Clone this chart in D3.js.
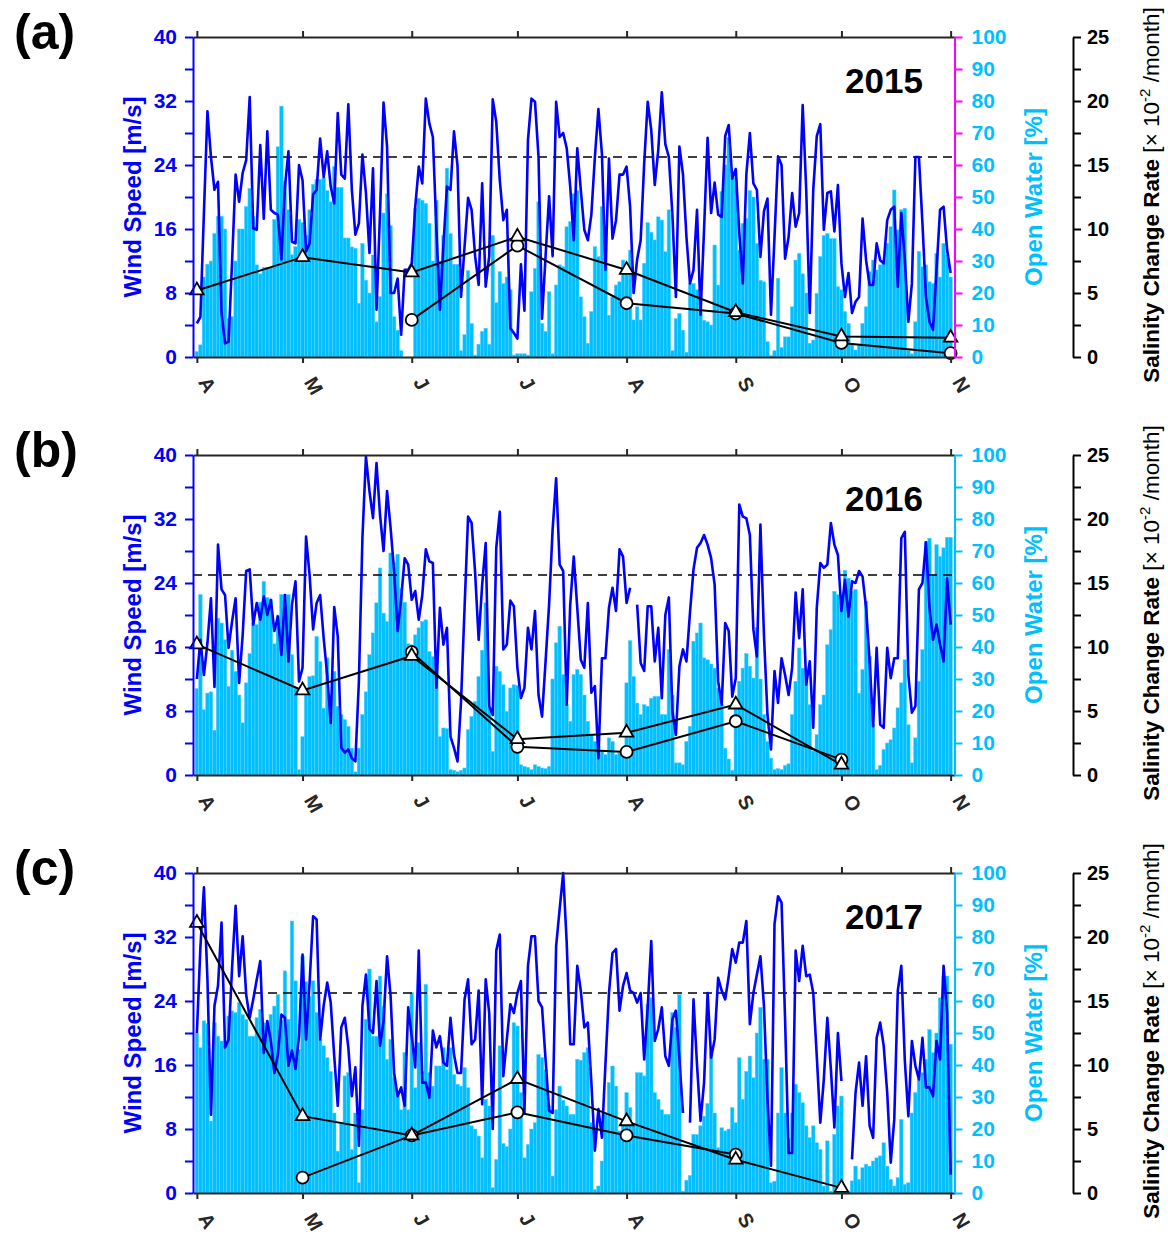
<!DOCTYPE html>
<html><head><meta charset="utf-8">
<script src="https://cdn.jsdelivr.net/npm/d3@7"></script>
<style>
body{margin:0;background:#fff;}
svg{display:block;font-family:"Liberation Sans",Arial,Helvetica,sans-serif;}
</style>
</head><body>
<svg id="chart" width="1168" height="1239"></svg>
<script>
// ---------- data ----------
const months = ["A","M","J","J","A","S","O","N"];
const monthDays = [0,30,61,91,122,153,183,214];   // day index from Apr 1
const years = ["2015","2016","2017"];
const panelLabels = ["(a)","(b)","(c)"];

const wind2015 = [
4.2,5,18,30.7,25,20.9,21.9,5.5,1.7,1.9,
12,22.8,19.4,23,24.6,32.5,16.1,15.9,26.5,17.3,
28.2,18.4,18,17.8,12.2,21.3,25.7,14.4,14.2,24,
22.1,13.2,14.2,20.3,20.9,27.3,22.5,25.7,21.3,19.2,
30.5,22.8,22.3,31.6,20.9,15.3,16.7,25.3,20.5,13,
23.6,5.9,18,31.8,26.3,8,8,9.8,2.8,10.9,
10.9,11.7,18.8,23.8,21.7,32.3,29.2,27.5,16,5.9,
14,21.3,20.9,28.2,23.9,7.5,13.8,19.9,18.4,12.6,
9,21.7,8.8,12.6,32.2,29.4,22.1,17.1,18.4,3.6,
3,2.3,11.6,5.8,27.1,32.3,31.9,25,4.8,12.6,
20.1,12.6,31.9,27.5,28,26.1,21.3,14.6,26.1,20.9,
15.9,14.6,17.8,25,31,25.4,10.9,24.8,14.8,17.1,
22.8,22.8,23.8,18.8,8,12.2,14.6,24.2,31.9,28.4,
21.5,25.9,33.1,26.6,25,17.9,7.5,26.3,22.9,15,
9.2,10.9,18.4,5.3,16,27.4,18,21.8,17.8,17.5,
27.6,29,22.3,23.5,15.5,9.2,22.8,28,21.7,20.9,
12.5,18.2,19.8,5.3,15,25.1,24,12.3,15,20.5,
16.3,18,31.5,20.9,5.5,20.9,27.6,29.1,15.9,20.5,
20.7,15.7,21.5,11.7,7.5,10.5,5.5,6.9,7.5,17.3,
12.1,9,9,14.2,12.1,11.7,17.1,18.4,18.8,8.8,
18,12.1,4.4,9.2,25,25,16.7,7.5,4.4,3.4,
10.9,18.4,18.8,13.4,10.5];
const water2015 = [
1.7,3.8,25,29,30,38.6,44,44,40,12,
12.6,30,40,40,47,52.7,44,28.8,26,28,
28,28,43,65.7,78.4,54.8,46,32,34.5,43,
42,38,46,54,55.5,55.5,56,52,48.5,59.5,
53,53,37.2,37.2,34.4,34,16.8,35.5,24,20,
31.9,11,18.9,45,51,41,12.6,8.4,2,0,
0,0,46.5,49.6,49,48,41.8,30,49,30,
38,59,38.6,29,29,2,7,27,10.5,0.6,
4,8,9,4,38,17,26.7,23,25,21,
0.6,1,1,1,0.6,20.4,27.7,48.5,10.5,8,
20.4,1,22.5,28.8,28.3,40.7,42.3,51,52,18.8,
12.6,4.3,14.2,34.5,31.4,47,38.6,13,18.8,22.5,
23.5,30.3,29.3,33.4,11.6,15.7,11.6,29.3,42,39,
36.6,43.8,42.8,32.9,46,2,12,13.6,8.4,1.5,
23,23,21,14,11.5,11,10,35,22.5,51.7,
60,68.6,56,56,33.4,41.8,43.3,52,50,35.5,
24,23.5,4.8,0.5,2,24.6,3,6.3,6.3,15.7,
30.3,32.4,26,20,4.3,5.3,19.9,31.4,38,38.6,
37,37,22,21,14.2,10.5,4.3,2.2,4,10.5,
15.7,26.7,30.3,27.2,28.8,29.3,35.5,40.7,52.2,39.7,
46,46.5,2,1,11,33,28.2,28.8,23.5,23,
32.4,25,35.5,31.9,25];

const wind2016 = [
12,16.9,12.5,16.5,22.1,11,28.8,23.2,22.5,15.9,
19.2,22.1,11.5,17.5,25.5,25.7,18.8,21.5,19.4,22.3,
20,21.9,18,19.8,15,22.5,14.2,21.3,24.2,11.7,
13.4,29.8,25,18.2,21.5,22.5,17.1,12.5,6.5,21,
17.3,3.4,2.8,3.2,2.1,1.7,11.7,29.6,39.8,35.5,
32.1,39,32.5,28,35.5,30.9,25.5,18,22.1,27.1,
26.3,21.9,23,19.4,22.5,28.2,26.7,26.5,10.9,20.9,
16.3,18.4,4.8,3.4,1.7,9.2,20.9,32.3,31.5,25.3,
16.9,23.8,29,8.6,7.5,28.4,32.9,15.7,16.3,21.8,
21.1,13.4,9.6,10.9,18.4,15.7,20.5,10,7.3,14.2,
21.3,30.7,37.1,26.3,25.5,8.8,21.3,27.3,20.9,14.4,
13.4,21.5,10.3,11.1,2.1,14.6,14.6,20.9,23.4,20.5,
28.2,27.3,21.5,23.4,null,21.3,14,13,21.1,21.1,
14.2,18.4,9.6,20,22.2,8,5,13.6,15.7,14.2,
20.3,25.7,28.4,29,30,28.8,27.1,23.8,11.7,8.8,
19,18,9.8,12.1,33.8,32.3,32.1,30,18.2,14.8,
31.3,17.5,7.5,3.2,13,9,14.6,12.5,10,13.4,
22.8,17.1,23.2,11.3,14.2,5.9,20.9,26.5,25.9,26.3,
31.5,28.8,27.5,20.5,24.4,19.8,24.2,24,25.5,24.8,
20.9,14.2,6.1,15.9,6.3,5.9,15.9,12.1,14.6,14.6,
29.6,30.4,12.5,7.8,8.6,23.2,24,29.1,20.9,16.9,
18.8,16.3,14.2,24.6,18.8];
const water2016 = [
27,56.4,20.4,25.6,26,14,49,47.5,42.3,27.7,
39,32.4,25,16.3,28.8,38,47.5,47,54,60.5,
55.5,54.8,41,50,56.4,56.5,56.4,37.6,27.2,1.7,
12,25.6,30.8,31,43.3,35.5,20.9,36.6,25,32.4,
21.5,18.9,17.3,15.2,8.4,1,8.4,18.9,26,37.6,
44.4,53.8,64.7,50.6,48,69.4,66.3,69,58.4,54,
41,40.7,43.8,46,48,48.5,38.6,37,35,12,
14.7,14.5,1.7,1.5,1,1.5,2.2,14.2,18.3,23,
30.8,39,53.8,21,7.4,34,32.4,28.2,19.9,27.2,
28.2,28,3.2,2.7,2.4,1.7,3.2,2.7,2.2,2,
2.7,30,41.3,46.5,31.4,22,16.8,31.4,33,31.4,
25,16.8,12.6,10.5,9,7.4,6.4,11.6,10.5,6.4,
6.9,7.4,28.8,42,30.8,22.5,18.9,22,21.5,24,
24.6,24.6,18.9,18.9,39.2,25,3.8,3.8,3.2,10.5,
15.2,41.8,44.4,47.5,36.6,36,34.7,33.4,27.2,22,
8.4,5,1.5,23,29.3,33.4,38,34,30.3,46,
30,18.9,10.5,5.3,1.7,2,1.7,3,3.5,18.9,
29.3,39.7,33.4,29.3,22,7.5,12.6,22,25,40.7,
45.4,57.4,56.4,53.8,64,61.5,57.4,58,25.6,33,
54.3,37,15.7,1.7,3,8,10,11,14.7,21,
28.8,36,15.7,3.8,11.6,29.3,39.2,73,74,62.6,
72,68.3,71,74.3,74.3];

const wind2017 = [
20,30.7,38.2,26.7,9.8,23.4,25.9,33.8,18.2,19.2,
28.2,35.9,27.1,32.1,24.8,21.9,24.2,26.7,29,17.5,
21.5,19,15,17.3,22.3,21.9,15.9,17.8,15.5,19.6,
29.8,19.2,26.3,34.6,34.2,19.2,23.4,26.3,23.8,17.1,
10.9,20.7,21.9,18.2,12.1,15.7,5.9,23.4,27.3,20.5,
20,26.5,18.4,21.5,29.6,24.6,15,12.1,13.2,10.9,
23.2,19.6,15.7,30.3,13.8,13.8,11.9,20.3,18.2,19.6,
16.3,15.9,21.9,17.3,15,15,24.2,26.7,18.6,19.2,
25.3,11.1,26.7,22.5,8,30.3,32.3,14.6,19.2,23.6,
22.5,25,26.5,10,28.4,32.1,32.1,24,23.2,16.7,
10.3,10,30.9,35.5,40,31.3,18.6,18.6,28.4,25.3,
20.7,21.3,13.8,5.3,10.5,6.9,16.1,25,30,30.5,
22.8,25.9,27.5,25.3,25,23.8,25,16.7,23.2,31.5,
19,20.5,23.2,17.1,15.9,21.7,22.8,16.7,10,null,
8.8,24.2,16,9,13.8,25,16.9,19.2,26.9,25.3,
24.2,27.1,30.5,28.8,31.3,31.3,34,21.1,25,27.3,
29.6,23.4,11.7,3.4,33.6,37.1,36.3,21.7,5,5,
30.3,26.5,30.9,27.1,27.3,25,17.1,8.8,14.2,21.9,
15.5,8.2,20,14,null,null,4.2,12.5,16.3,10.9,
17.1,8.4,6.9,19.4,21.3,18.4,12.5,3.8,9.2,25.3,
28.4,16.5,9.6,19,15.9,14.2,19.4,13.2,13.2,12.1,
19,16.7,28.4,22.5,2.3];
const water2017 = [
50,45.4,53.8,53,22.5,53.2,49,47.5,46,55.3,
56.9,56.4,59.5,55.8,54.3,49,49,54.8,57.4,53.2,
52.2,55.8,58.4,62,54,69.4,54.3,85,66.3,44.9,
74,66,61.5,66.3,56.4,48,46,42.3,38,25,
13.1,22,36.6,37.6,13.6,25,3.2,26,54.3,70,
49,49,67.8,58.4,41.8,48,36,30.3,26,43.9,
26,62.6,32.9,47,38,65.2,37.6,33.4,39.7,39.7,
45.4,38.6,45.4,37,34,33.4,39.2,32.9,21,20,
17.8,11,29.3,27.2,1.7,10.5,46,15.5,14.5,20,
53.2,52.2,31.4,11,15.2,20,22,43.3,42.3,38.6,
27.2,5.3,26,33.4,29,27.2,24.6,24.6,41.8,41.5,
43.9,45.4,22,1.1,2.2,10,25,34.5,39.7,33.4,
19.4,22.5,31.4,26.7,21,37.6,37.6,36.6,59,61,
31.4,29.3,26,24.6,24.6,56.4,51.7,62,0.6,4,
5.5,18.3,18.3,21,24,28,43.9,25,14.2,20.4,
19.4,20,26.7,22,42.3,29.3,38,42.8,36,50,
58,41.8,41.8,3.2,3.7,25,39.2,25,17,25,
34,31.4,28.2,21,17.3,21,15.7,13.6,2.2,16.3,
0.6,18.3,27.2,30.3,1,0.6,3.8,8.4,4.3,7.9,
9,8.4,10,11,11.6,15.7,8.4,4.3,2.2,4.8,
23,2.7,3.2,25,31.4,35.5,37.6,41.8,51.1,43.9,
50,61,67.8,67.8,46.5];

// salinity change rate at month starts (A..N), x10^-2 /month
const salTri2015  = [5.2,7.8,6.6,9.4,6.8,3.5,1.6,1.5];
const salCirc2015 = [null,null,2.9,8.7,4.2,3.4,1.1,0.3];
const salTri2016  = [10.2,6.6,9.3,2.8,3.3,5.5,0.8,null];
const salCirc2016 = [null,null,9.6,2.2,1.8,4.2,1.2,null];
const salTri2017  = [21.1,6.0,4.5,8.9,5.6,2.6,0.4,null];
const salCirc2017 = [null,1.2,4.5,6.3,4.5,3.0,null,null];

const windThreshold = 25;

// ---------- drawing ----------
const svg = d3.select("#chart");
const FONT = "'Liberation Sans', Arial, Helvetica, sans-serif";
const BLUE = "#0000FF", SKY = "#00BFFF", MAG = "#FF00FF", AX = "#262626";
const panelTops = [37, 455, 873];
const plotH = 320;
const xLeft = 193, xRight = 954.5, salX = 1073;
const x = d3.scaleLinear().domain([-1.1, 215.1]).range([xLeft, xRight]);

const panels = [
  {wind: wind2015, water: water2015, tri: salTri2015, circ: salCirc2015, rightColor: MAG},
  {wind: wind2016, water: water2016, tri: salTri2016, circ: salCirc2016, rightColor: SKY},
  {wind: wind2017, water: water2017, tri: salTri2017, circ: salCirc2017, rightColor: SKY}
];

function styleAxis(sel, lineColor, textColor, fontSize) {
  sel.attr("font-family", null).attr("font-size", null);
  sel.select(".domain").attr("stroke", lineColor).attr("stroke-width", 2);
  sel.selectAll(".tick line").attr("stroke", lineColor).attr("stroke-width", 2);
  sel.selectAll(".tick text").attr("fill", textColor)
     .style("font-family", FONT).style("font-size", fontSize + "px").style("font-weight", "bold");
}

panels.forEach((p, i) => {
  const T = panelTops[i], B = T + plotH;
  const g = svg.append("g");
  const yW = d3.scaleLinear().domain([0, 40]).range([B, T]);
  const yO = d3.scaleLinear().domain([0, 100]).range([B, T]);
  const yS = d3.scaleLinear().domain([0, 25]).range([B, T]);
  const bw = x(1) - x(0);

  // open water bars
  g.append("g").selectAll("rect").data(p.water).join("rect")
    .attr("x", (d, k) => x(k - 0.5)).attr("width", bw)
    .attr("y", d => yO(d)).attr("height", d => B - yO(d))
    .attr("fill", SKY).attr("stroke", "#5CD3FF").attr("stroke-width", 0.5);

  // dashed threshold line
  g.append("line").attr("x1", xLeft).attr("x2", xRight)
    .attr("y1", yW(windThreshold)).attr("y2", yW(windThreshold))
    .attr("stroke", "#000").attr("stroke-width", 1.3).attr("stroke-dasharray", "9,6");

  // wind speed line
  const wl = d3.line().defined(d => d != null).x((d, k) => x(k)).y(d => yW(d));
  g.append("path").datum(p.wind).attr("d", wl)
    .attr("fill", "none").attr("stroke", BLUE).attr("stroke-width", 2.6).attr("stroke-linejoin", "round");

  // salinity change rate series
  const sl = d3.line().defined(d => d != null).x((d, k) => x(monthDays[k])).y(d => yS(d));
  [p.circ, p.tri].forEach(arr => {
    g.append("path").datum(arr).attr("d", sl).attr("fill", "none").attr("stroke", "#000").attr("stroke-width", 2);
  });
  g.append("g").selectAll("circle").data(p.circ.map((v, k) => ({v, k})).filter(o => o.v != null)).join("circle")
    .attr("cx", o => x(monthDays[o.k])).attr("cy", o => yS(o.v)).attr("r", 6)
    .attr("fill", "#fff").attr("stroke", "#000").attr("stroke-width", 1.8);
  const tri = d3.symbol().type(d3.symbolTriangle).size(80);
  g.append("g").selectAll("path").data(p.tri.map((v, k) => ({v, k})).filter(o => o.v != null)).join("path")
    .attr("d", tri).attr("transform", o => `translate(${x(monthDays[o.k])},${yS(o.v)})`)
    .attr("fill", "#fff").attr("stroke", "#000").attr("stroke-width", 1.8);

  // axes: top & bottom
  g.append("g").attr("transform", `translate(0,${T})`)
    .call(d3.axisTop(x).tickValues(monthDays).tickFormat("").tickSize(6).tickSizeOuter(0))
    .call(s => styleAxis(s, AX, AX, 20));
  g.append("g").attr("transform", `translate(0,${B})`)
    .call(d3.axisBottom(x).tickValues(monthDays).tickFormat("").tickSize(6).tickSizeOuter(0))
    .call(s => styleAxis(s, AX, AX, 20));
  // month labels (rotated)
  g.append("g").selectAll("text").data(months).join("text")
    .attr("transform", (m, k) => `translate(${x(monthDays[k]) + 1},${B + 25}) rotate(60)`)
    .attr("fill", AX).style("font-family", FONT).style("font-size", "20px").style("font-weight", "bold")
    .text(m => m);

  // left wind axis
  g.append("g").attr("transform", `translate(${xLeft},0)`)
    .call(d3.axisLeft(yW).tickValues(d3.range(0, 41, 4)).tickFormat(d => d % 8 === 0 ? d : "")
      .tickSize(8).tickPadding(8).tickSizeOuter(0))
    .call(s => styleAxis(s, BLUE, BLUE, 21));
  // right open water axis
  g.append("g").attr("transform", `translate(${xRight},0)`)
    .call(d3.axisRight(yO).tickValues(d3.range(0, 101, 10)).tickSize(8).tickPadding(9).tickSizeOuter(0))
    .call(s => styleAxis(s, p.rightColor, SKY, 21));
  // salinity axis
  g.append("g").attr("transform", `translate(${salX},0)`)
    .call(d3.axisRight(yS).tickValues(d3.range(0, 25.01, 2.5)).tickFormat(d => d % 5 === 0 ? d : "")
      .tickSize(8).tickPadding(6).tickSizeOuter(0))
    .call(s => styleAxis(s, "#000", "#000", 20));

  // titles
  const mid = (T + B) / 2;
  g.append("text").attr("transform", `translate(141,${mid}) rotate(-90)`).attr("text-anchor", "middle")
    .attr("fill", BLUE).style("font-family", FONT).style("font-size", "24px").style("font-weight", "bold")
    .text("Wind Speed [m/s]");
  g.append("text").attr("transform", `translate(1042,${mid}) rotate(-90)`).attr("text-anchor", "middle")
    .attr("fill", SKY).style("font-family", FONT).style("font-size", "24px").style("font-weight", "bold")
    .text("Open Water [%]");
  const st = g.append("text").attr("transform", `translate(1159,${mid - 2}) rotate(-90)`).attr("text-anchor", "middle")
    .attr("fill", "#000").style("font-family", FONT).style("font-size", "22.5px");
  st.append("tspan").style("font-weight", "bold").text("Salinity Change Rate ");
  st.append("tspan").text("[\u00D7 10");
  st.append("tspan").attr("dy", -9).style("font-size", "15px").text("-2");
  st.append("tspan").attr("dy", 9).text(" /month]");

  // panel label and year
  g.append("text").attr("x", 14).attr("y", T + 12)
    .style("font-family", FONT).style("font-size", "50px").style("font-weight", "bold").attr("fill", "#000")
    .text(panelLabels[i]);
  g.append("text").attr("x", 845).attr("y", T + 56)
    .style("font-family", FONT).style("font-size", "35px").style("font-weight", "bold").attr("fill", "#000")
    .text(years[i]);
});
</script>
</body></html>
